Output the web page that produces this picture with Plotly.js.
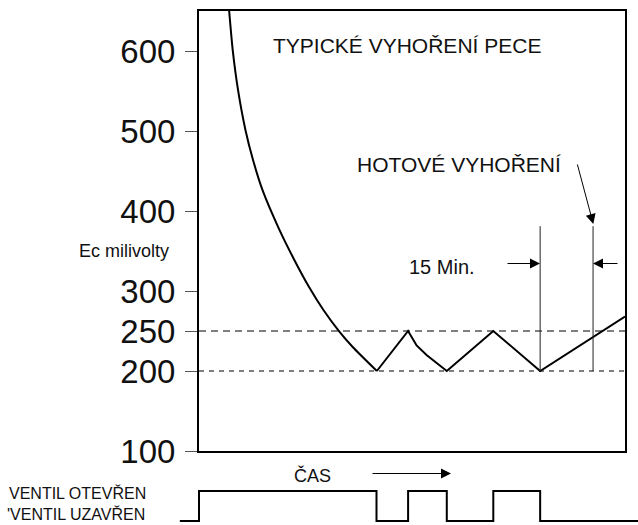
<!DOCTYPE html>
<html><head><meta charset="utf-8">
<script src="https://cdn.plot.ly/plotly-3.0.1.min.js"></script>
<style>html,body{margin:0;padding:0;background:#fff}#chart{width:638px;height:525px}</style>
</head><body><div id="chart"></div>
<script>
// ---- data ----
const decayMinutes = [8.5, 9.5, 11.0, 13.1, 15.2, 17.9, 22.5, 26.6, 31.0, 35.1, 39.6, 43.3, 50.1];
const decayMillivolts = [650, 601, 551, 501, 464, 426, 378, 341, 305, 276, 249, 230, 200];
const cycleMinutes = [50.1, 58.9, 61.3, 64.1, 69.8, 82.9, 96.1, 120];
const cycleMillivolts = [200, 250, 232, 220, 200, 250, 200, 268];
const refLevels = [200, 250];
const markMinutes = [96.1, 111.0];
const markTop = 381;
const valveMinutes = [-5.4, 0, 50, 58.9, 69.8, 82.9, 96.1, 123.7];
const valveState = [0, 1, 0, 1, 0, 1, 0, 0];
const yTicks = [100, 200, 250, 300, 400, 500, 600];
const xRange = [0, 120];
const yRange = [100, 650];

// ---- layout geometry ----
const W = 638, H = 525;
const L = 199, R = 625, T = 11, B = 451;
const ppm = (R - L) / (xRange[1] - xRange[0]);
const PX = x => x / W;
const PY = y => 1 - y / H;
const FONT = 'Liberation Sans, Arial, sans-serif';
const refDash = ['5px,5px', '7px,5px'];

const traces = [
  {x: decayMinutes, y: decayMillivolts, type: 'scatter', mode: 'lines',
   line: {color: '#000', width: 2, shape: 'spline', smoothing: 0.6}, xaxis: 'x', yaxis: 'y', hoverinfo: 'skip'},
  {x: cycleMinutes, y: cycleMillivolts, type: 'scatter', mode: 'lines',
   line: {color: '#000', width: 2}, xaxis: 'x', yaxis: 'y', hoverinfo: 'skip'},
  {x: valveMinutes, y: valveState, type: 'scatter', mode: 'lines',
   line: {color: '#000', width: 2, shape: 'hv'}, xaxis: 'x2', yaxis: 'y2', hoverinfo: 'skip'}
];

const shapes = [];
refLevels.forEach((v, i) => shapes.push({type: 'line', xref: 'x', yref: 'y', x0: xRange[0], x1: xRange[1], y0: v, y1: v,
  line: {color: '#000', width: 1, dash: refDash[i]}}));
markMinutes.forEach(m => shapes.push({type: 'line', xref: 'x', yref: 'y', x0: m, x1: m, y0: refLevels[0], y1: markTop,
  line: {color: '#222', width: 1}}));

function txt(text, x, y, size, xanchor) {
  return {text: text, xref: 'paper', yref: 'paper', x: PX(x), y: PY(y), showarrow: false,
    xanchor: xanchor || 'center', yanchor: 'middle', font: {family: FONT, size: size, color: '#111'}};
}
function arrow(tipX, tipY, tailX, tailY) {
  return {text: '', xref: 'paper', yref: 'paper', x: PX(tipX), y: PY(tipY), axref: 'pixel', ayref: 'pixel',
    ax: tailX - tipX, ay: tailY - tipY, showarrow: true, arrowhead: 2, arrowsize: 2, arrowwidth: 1,
    arrowcolor: '#000', standoff: 0};
}

const annotations = [
  txt('TYPICKÉ VYHOŘENÍ PECE', 407, 45, 21),
  txt('HOTOVÉ VYHOŘENÍ', 459, 164, 21),
  txt('15 Min.', 441.5, 267, 20),
  txt('Ec milivolty', 124, 251, 18),
  txt('ČAS', 312, 475, 18),
  txt('VENTIL OTEVŘEN', 7, 493, 16, 'left'),
  txt("'VENTIL UZAVŘEN", 5, 514, 16, 'left'),
  arrow(593.3, 224, 577, 163),
  arrow(540, 263.5, 506, 263.5),
  arrow(593, 263.5, 619, 263.5),
  arrow(451, 473.5, 371, 473.5)
];

const layout = {
  width: W, height: H,
  margin: {l: 0, r: 0, t: 0, b: 0},
  paper_bgcolor: '#fff', plot_bgcolor: '#fff',
  showlegend: false,
  xaxis: {domain: [PX(L), PX(R)], range: xRange, showline: true, mirror: true, linewidth: 2, linecolor: '#000',
    showticklabels: false, ticks: '', showgrid: false, zeroline: false, fixedrange: true, anchor: 'y'},
  yaxis: {domain: [PY(B), PY(T)], range: yRange, tickvals: yTicks, ticks: 'outside', ticklen: 12, tickwidth: 1,
    tickcolor: '#555', showline: true, mirror: true, linewidth: 2, linecolor: '#000', showgrid: false, zeroline: false,
    tickfont: {family: FONT, size: 33, color: '#111'}, ticklabelstandoff: 3, fixedrange: true, anchor: 'x'},
  xaxis2: {domain: [0, 1], range: [xRange[0] - L / ppm, xRange[0] + (W - L) / ppm], visible: false, anchor: 'y2', fixedrange: true},
  yaxis2: {domain: [0, PY(460)], range: [-4 / 30, 1 + 31 / 30], visible: false, anchor: 'x2', fixedrange: true},
  shapes: shapes,
  annotations: annotations
};

Plotly.newPlot('chart', traces, layout, {displayModeBar: false, staticPlot: true});
</script>
</body></html>
